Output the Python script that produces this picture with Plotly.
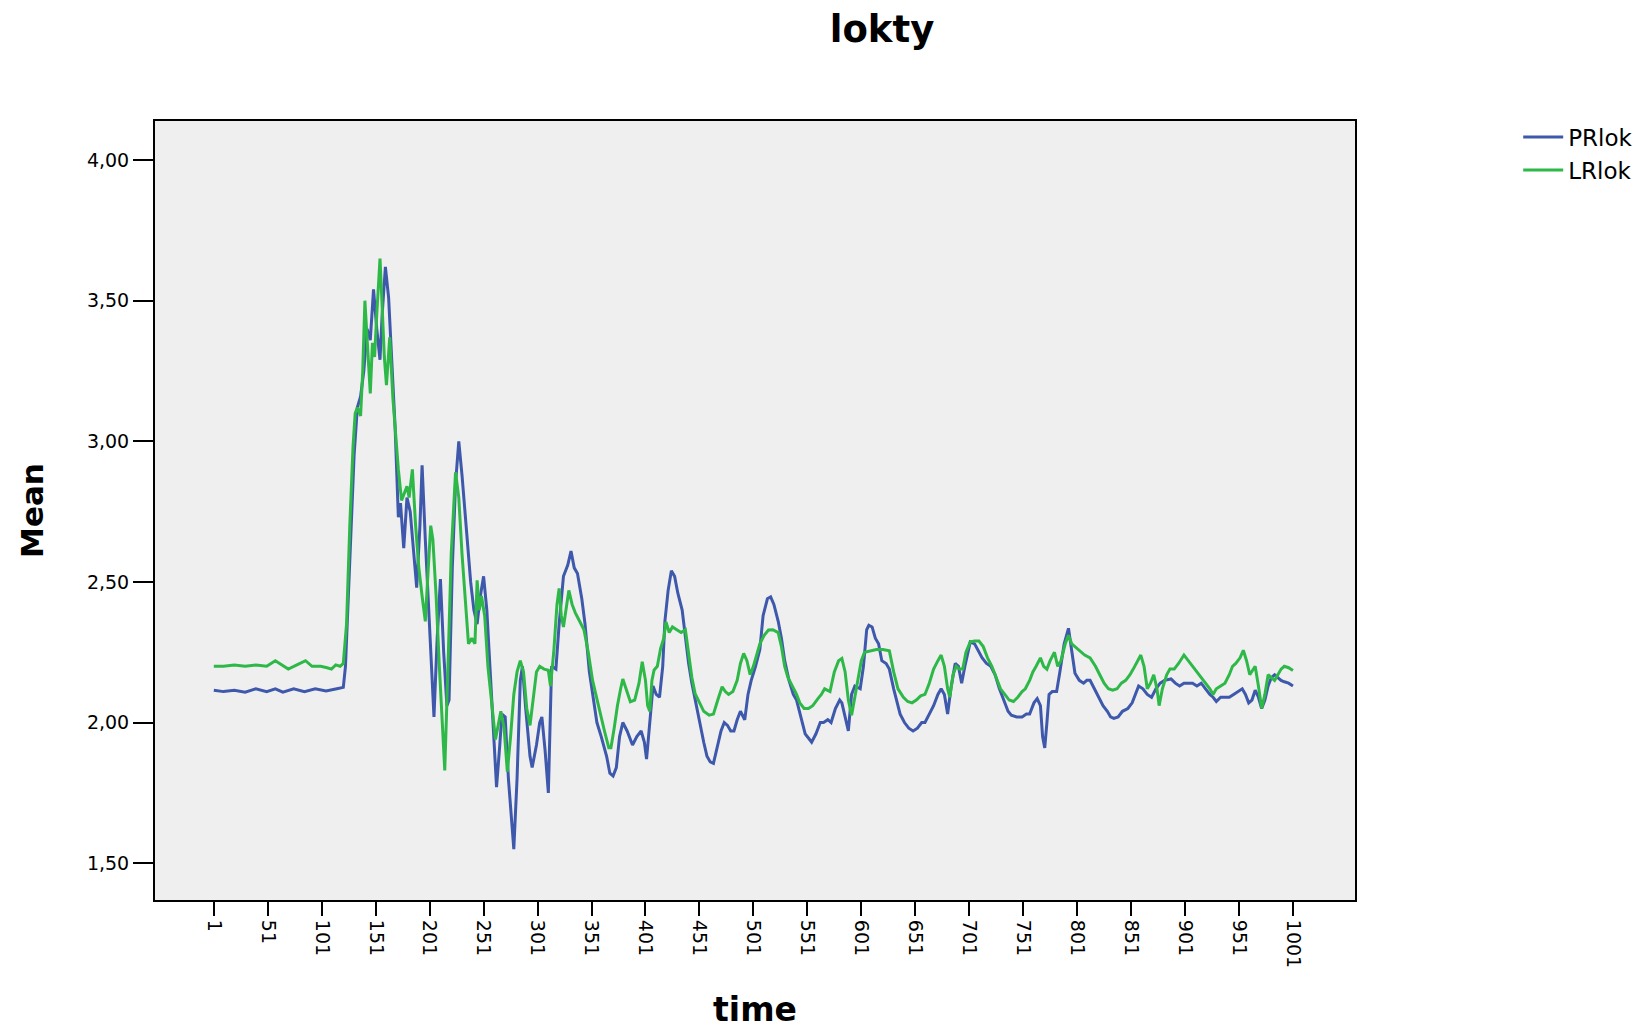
import plotly.graph_objects as go

# ---- data ----
pr_time = [1, 10, 20, 30, 40, 50, 58, 65, 75, 85, 95, 105, 115, 121,
           123, 127, 131, 134, 137, 140, 143, 146, 149, 152, 155, 157, 160, 163, 166, 169,
           172, 174, 177, 180, 183, 186, 189, 192, 194, 197, 200, 203, 205, 208, 211, 214,
           217, 219, 222, 225, 228, 231, 235, 239, 242, 245, 248, 251, 254, 258, 263, 266,
           268, 271, 274, 279, 282, 285, 287, 290, 294, 296, 300, 303, 305, 308, 311, 314,
           318, 321, 325, 329, 332, 335, 338, 342, 345, 349, 353, 356, 360, 365, 368, 371,
           374, 377, 380, 384, 389, 393, 397, 400, 402, 405, 408, 411, 414, 417, 419, 422,
           425, 428, 431, 435, 438, 441, 444, 447, 451, 455, 458, 461, 464, 467, 471, 474,
           477, 480, 483, 486, 489, 493, 496, 499, 503, 507, 510, 514, 517, 520, 524, 527,
           530, 534, 538, 541, 545, 549, 552, 555, 559, 563, 566, 570, 573, 577, 581, 583,
           586, 589, 592, 595, 600, 603, 606, 608, 611, 614, 617, 620, 624, 627, 631, 634,
           637, 641, 645, 649, 653, 657, 660, 664, 668, 672, 675, 678, 681, 684, 688, 691,
           694, 697, 700, 702, 706, 710, 713, 717, 721, 725, 729, 733, 737, 740, 745, 750,
           754, 757, 761, 764, 767, 769, 771, 773, 775, 778, 782, 785, 789, 793, 796, 799,
           803, 807, 810, 813, 817, 821, 825, 829, 832, 835, 839, 843, 848, 852, 855, 858,
           862, 866, 870, 874, 878, 882, 888, 892, 896, 900, 904, 908, 912, 916, 920, 924,
           927, 930, 934, 938, 942, 946, 950, 954, 957, 960, 963, 966, 969, 972, 975, 978,
           981, 984, 987, 990, 993, 997, 1001]
pr_mean = [2.115, 2.11, 2.115, 2.108, 2.12, 2.11, 2.12, 2.108, 2.12, 2.11, 2.12, 2.112, 2.12, 2.125,
           2.20, 2.60, 2.95, 3.12, 3.16, 3.25, 3.40, 3.36, 3.54, 3.40, 3.29, 3.45, 3.62, 3.51, 3.30, 3.05,
           2.73, 2.78, 2.62, 2.80, 2.75, 2.60, 2.48, 2.70, 2.915, 2.65, 2.40, 2.20, 2.02, 2.30, 2.51, 2.25,
           2.06, 2.08, 2.55, 2.85, 3.00, 2.88, 2.70, 2.50, 2.40, 2.35, 2.45, 2.52, 2.40, 2.10, 1.77, 1.92,
           2.03, 2.02, 1.80, 1.55, 1.80, 2.15, 2.20, 2.05, 1.88, 1.84, 1.92, 2.00, 2.02, 1.90, 1.75, 2.20,
           2.19, 2.35, 2.52, 2.56, 2.61, 2.55, 2.53, 2.44, 2.35, 2.18, 2.08, 2.00, 1.95, 1.88, 1.82, 1.81,
           1.84, 1.95, 2.00, 1.97, 1.92, 1.95, 1.97, 1.93, 1.87, 2.00, 2.13, 2.10, 2.09, 2.20, 2.36, 2.47,
           2.54, 2.52, 2.46, 2.40, 2.30, 2.21, 2.14, 2.08, 2.00, 1.93, 1.88, 1.86, 1.855, 1.90, 1.97, 2.00,
           1.99, 1.97, 1.97, 2.01, 2.04, 2.01, 2.10, 2.15, 2.20, 2.26, 2.38, 2.44, 2.447, 2.42, 2.36, 2.30,
           2.22, 2.15, 2.10, 2.08, 2.02, 1.96, 1.945, 1.93, 1.96, 2.00, 2.00, 2.01, 2.00, 2.05, 2.08, 2.07,
           2.02, 1.97, 2.10, 2.13, 2.12, 2.20, 2.33, 2.346, 2.34, 2.30, 2.28, 2.22, 2.21, 2.19, 2.12, 2.07,
           2.03, 2.00, 1.98, 1.97, 1.98, 2.00, 2.00, 2.03, 2.06, 2.10, 2.12, 2.10, 2.03, 2.12, 2.21, 2.20,
           2.14, 2.20, 2.26, 2.287, 2.28, 2.25, 2.23, 2.21, 2.20, 2.17, 2.12, 2.08, 2.04, 2.026, 2.02, 2.02,
           2.03, 2.03, 2.07, 2.085, 2.06, 1.95, 1.91, 2.00, 2.10, 2.11, 2.11, 2.18, 2.28, 2.335, 2.26, 2.175,
           2.15, 2.14, 2.15, 2.15, 2.12, 2.09, 2.06, 2.04, 2.02, 2.015, 2.02, 2.04, 2.05, 2.07, 2.10, 2.13,
           2.12, 2.10, 2.09, 2.12, 2.14, 2.15, 2.155, 2.14, 2.13, 2.14, 2.14, 2.14, 2.13, 2.14, 2.12, 2.10,
           2.09, 2.075, 2.09, 2.09, 2.09, 2.10, 2.11, 2.12, 2.10, 2.07, 2.08, 2.115, 2.09, 2.05, 2.08, 2.13,
           2.16, 2.17, 2.16, 2.15, 2.145, 2.14, 2.13]

lr_time = [1, 10, 20, 30, 40, 50, 58, 64, 70, 78, 86, 92, 100, 106, 110, 114, 118, 121,
           124, 127, 130, 132, 134, 137, 139, 141, 143, 146, 148, 150, 152, 155, 157, 159, 161, 164,
           167, 170, 172, 175, 178, 180, 182, 185, 188, 191, 194, 197, 199, 202, 204, 207, 210, 213,
           215, 218, 221, 225, 228, 231, 234, 237, 240, 243, 245, 247, 249, 252, 255, 259, 262, 265,
           267, 270, 273, 276, 279, 282, 285, 288, 291, 294, 297, 300, 303, 307, 311, 313, 316, 319,
           321, 323, 325, 328, 330, 333, 336, 340, 344, 348, 352, 355, 359, 363, 367, 369, 372, 375,
           378, 380, 383, 387, 391, 395, 398, 401, 403, 405, 407, 409, 412, 415, 418, 420, 423, 426,
           430, 434, 438, 441, 444, 447, 451, 455, 460, 464, 468, 472, 475, 478, 482, 486, 489, 492,
           495, 498, 501, 504, 507, 511, 515, 519, 524, 527, 530, 533, 537, 541, 544, 548, 552, 556,
           561, 564, 567, 572, 576, 580, 583, 586, 589, 592, 595, 598, 601, 604, 609, 615, 621, 627,
           631, 635, 640, 644, 648, 652, 656, 660, 664, 668, 672, 675, 678, 681, 683, 686, 689, 692,
           695, 698, 702, 706, 710, 714, 718, 722, 726, 730, 734, 738, 742, 746, 750, 753, 757, 760,
           763, 767, 770, 773, 776, 780, 783, 786, 790, 793, 796, 799, 803, 808, 813, 818, 822, 826,
           830, 834, 838, 842, 846, 850, 853, 857, 860, 863, 866, 869, 872, 875, 877, 880, 884, 887,
           891, 895, 898, 900, 904, 908, 912, 916, 920, 924, 927, 930, 934, 938, 942, 945, 948, 952,
           955, 958, 961, 964, 966, 969, 972, 975, 978, 981, 984, 987, 990, 993, 997, 1001]
lr_mean = [2.20, 2.20, 2.205, 2.20, 2.205, 2.20, 2.22, 2.205, 2.19, 2.205, 2.22, 2.20, 2.20, 2.195, 2.19, 2.205, 2.20, 2.21,
           2.35, 2.70, 2.98, 3.10, 3.12, 3.09, 3.25, 3.50, 3.35, 3.17, 3.35, 3.30, 3.45, 3.65, 3.48, 3.30, 3.20, 3.37,
           3.15, 2.99, 2.90, 2.79, 2.82, 2.84, 2.80, 2.90, 2.70, 2.55, 2.45, 2.36, 2.50, 2.70, 2.65, 2.45, 2.20, 1.95,
           1.83, 2.20, 2.60, 2.89, 2.80, 2.60, 2.42, 2.28, 2.30, 2.28, 2.506, 2.40, 2.45, 2.38, 2.20, 2.05, 1.94, 2.00,
           2.04, 1.98, 1.825, 1.95, 2.10, 2.18, 2.22, 2.18, 2.05, 1.99, 2.08, 2.18, 2.20, 2.19, 2.186, 2.13, 2.25, 2.42,
           2.477, 2.38, 2.34, 2.42, 2.47, 2.42, 2.39, 2.36, 2.33, 2.25, 2.15, 2.10, 2.03, 1.97, 1.91, 1.91, 1.98, 2.06,
           2.12, 2.155, 2.12, 2.074, 2.08, 2.14, 2.216, 2.15, 2.06, 2.04, 2.15, 2.187, 2.20, 2.263, 2.30, 2.358, 2.32, 2.34,
           2.33, 2.32, 2.33, 2.24, 2.16, 2.103, 2.07, 2.04, 2.026, 2.03, 2.08, 2.127, 2.11, 2.10, 2.11, 2.15, 2.21, 2.246,
           2.22, 2.17, 2.20, 2.24, 2.28, 2.31, 2.329, 2.33, 2.32, 2.27, 2.20, 2.16, 2.13, 2.10, 2.07, 2.05, 2.05, 2.06,
           2.086, 2.10, 2.12, 2.11, 2.18, 2.22, 2.228, 2.18, 2.08, 2.026, 2.09, 2.15, 2.22, 2.25, 2.255, 2.26, 2.26, 2.255,
           2.18, 2.12, 2.09, 2.075, 2.07, 2.08, 2.095, 2.10, 2.14, 2.19, 2.22, 2.24, 2.20, 2.12, 2.09, 2.17, 2.20, 2.19,
           2.19, 2.25, 2.287, 2.29, 2.29, 2.27, 2.23, 2.20, 2.16, 2.12, 2.10, 2.08, 2.075, 2.09, 2.11, 2.12, 2.15, 2.18,
           2.20, 2.23, 2.20, 2.19, 2.22, 2.25, 2.20, 2.22, 2.28, 2.31, 2.28, 2.27, 2.26, 2.24, 2.23, 2.20, 2.17, 2.14,
           2.12, 2.115, 2.12, 2.14, 2.15, 2.17, 2.19, 2.22, 2.24, 2.20, 2.12, 2.14, 2.17, 2.12, 2.06, 2.12, 2.17, 2.19,
           2.19, 2.21, 2.23, 2.24, 2.22, 2.20, 2.18, 2.16, 2.14, 2.12, 2.10, 2.12, 2.13, 2.14, 2.17, 2.20, 2.21, 2.23,
           2.257, 2.22, 2.17, 2.19, 2.20, 2.13, 2.05, 2.10, 2.17, 2.16, 2.15, 2.17, 2.19, 2.20, 2.195, 2.185]

x_tick_vals = list(range(1, 1002, 50))
x_tick_text = [str(v) for v in x_tick_vals]
y_tick_vals = [1.5, 2.0, 2.5, 3.0, 3.5, 4.0]
y_tick_text = ["1,50", "2,00", "2,50", "3,00", "3,50", "4,00"]

BLUE = "#3E58AC"
GREEN = "#2EB848"
FONT = "DejaVu Sans, Liberation Sans, Arial, sans-serif"

fig = go.Figure()
fig.add_trace(go.Scatter(x=pr_time, y=pr_mean, mode="lines", name="PRlok",
                         line=dict(color=BLUE, width=3)))
fig.add_trace(go.Scatter(x=lr_time, y=lr_mean, mode="lines", name="LRlok",
                         line=dict(color=GREEN, width=3)))

axis_common = dict(showgrid=False, zeroline=False, showline=True, linecolor="#000000",
                   linewidth=2, mirror=True, ticks="outside", tickcolor="#000000",
                   tickwidth=2, automargin=False,
                   tickfont=dict(family=FONT, size=19, color="#000000"))

fig.update_xaxes(range=[-53.5, 1058.5], tickvals=x_tick_vals, ticktext=x_tick_text,
                 tickangle=90, ticklen=14,
                 title=dict(text="<b>time</b>", font=dict(family=FONT, size=33, color="#000000"),
                            standoff=45),
                 **axis_common)
fig.update_yaxes(range=[1.369, 4.139], tickvals=y_tick_vals, ticktext=y_tick_text,
                 ticklen=20,
                 title=dict(text="<b>Mean</b>", font=dict(family=FONT, size=31, color="#000000"),
                            standoff=34),
                 **axis_common)

fig.update_layout(
    width=1650, height=1029,
    paper_bgcolor="#FFFFFF", plot_bgcolor="#EFEFEF",
    margin=dict(l=155, r=295, t=121, b=129),
    title=dict(text="<b>lokty</b>", x=882 / 1650, xref="container", xanchor="center",
               y=1 - 29 / 1029, yref="container", yanchor="middle",
               font=dict(family=FONT, size=37, color="#000000")),
    legend=dict(x=1.136, y=1.007, xanchor="left", yanchor="top",
                font=dict(family=FONT, size=23, color="#000000"),
                bgcolor="rgba(0,0,0,0)", tracegroupgap=0, itemwidth=40),
    showlegend=True,
)

fig.write_html("out.html")
